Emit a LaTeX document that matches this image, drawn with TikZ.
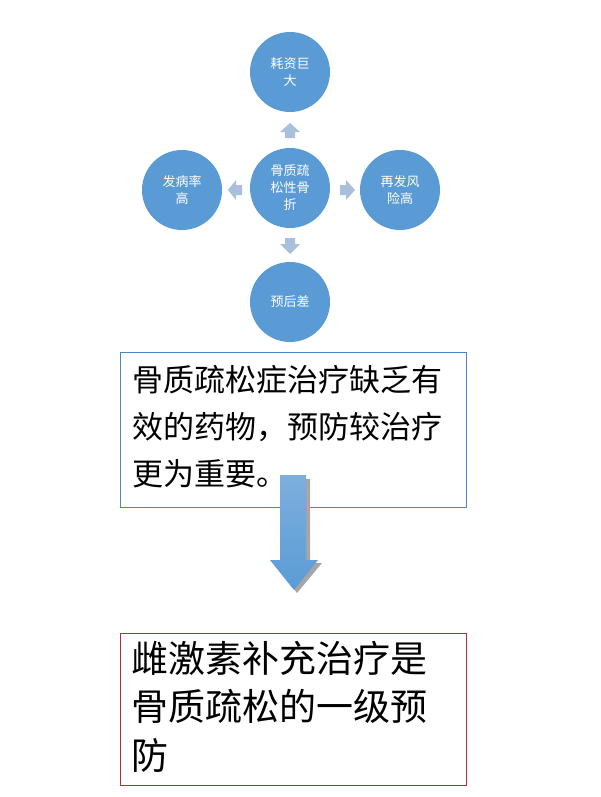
\documentclass[tikz,border=0pt]{standalone}
\usepackage{fontspec}
\setmainfont{Noto Sans CJK SC}
\begin{document}
\begin{tikzpicture}[x=1pt,y=-1pt,
  circ/.style={circle,fill=cblue,minimum size=80pt,inner sep=0pt,text=white,font=\fontsize{13}{17}\selectfont,align=center},
  sarrow/.style={fill=lblue}]
\definecolor{cblue}{HTML}{5B9BD5}
\definecolor{lblue}{HTML}{A9C0DC}
\definecolor{bblue}{HTML}{4A86C8}
\definecolor{rbord}{HTML}{B0303A}
\useasboundingbox (0,0) rectangle (600,797);
\node[circ] (t) at (290,72) {耗资巨\\大};
\node[circ] (c) at (290,188) {骨质疏\\松性骨\\折};
\node[circ] (l) at (182,190) {发病率\\高};
\node[circ] (r) at (400,190) {再发风\\险高};
\node[circ] (b) at (290,302) {预后差};
% small arrows
\fill[sarrow] (285,138)--(295,138)--(295,132)--(300,132)--(290,123)--(280,132)--(285,132)--cycle;
\fill[sarrow] (285,238)--(295,238)--(295,244)--(300,244)--(290,254)--(280,244)--(285,244)--cycle;
\fill[sarrow] (242,185)--(242,195)--(236,195)--(236,200)--(228,190)--(236,180)--(236,185)--cycle;
\fill[sarrow] (340,185)--(340,195)--(346,195)--(346,200)--(355,190)--(346,180)--(346,185)--cycle;
\node[draw=bblue,line width=0.8pt,minimum width=346pt,minimum height=155pt,anchor=north west,inner sep=0pt] (box1) at (120,352) {};
\node[anchor=north west,align=left,inner sep=0pt,font=\fontsize{31}{47}\selectfont] (t1) at (132,365) {骨质疏松症治疗缺乏有\\效的药物，预防较治疗\\更为重要。};
% big arrow with shadow
\fill[gray!70] (284,479)--(310,479)--(310,563)--(322,563)--(297,593)--(274,563)--(284,563)--cycle;
\shade[top color=cblue!80!white,bottom color=cblue] (280,475)--(306,475)--(306,560)--(318,560)--(294,590)--(270,560)--(280,560)--cycle;
\node[draw=rbord,line width=0.8pt,minimum width=346pt,minimum height=152pt,anchor=north west,inner sep=0pt] (box2) at (120,633) {};
\node[anchor=north west,align=left,inner sep=0pt,font=\fontsize{37}{48.5}\selectfont] (t2) at (131,641) {雌激素补充治疗是\\骨质疏松的一级预\\防};
\end{tikzpicture}
\end{document}
